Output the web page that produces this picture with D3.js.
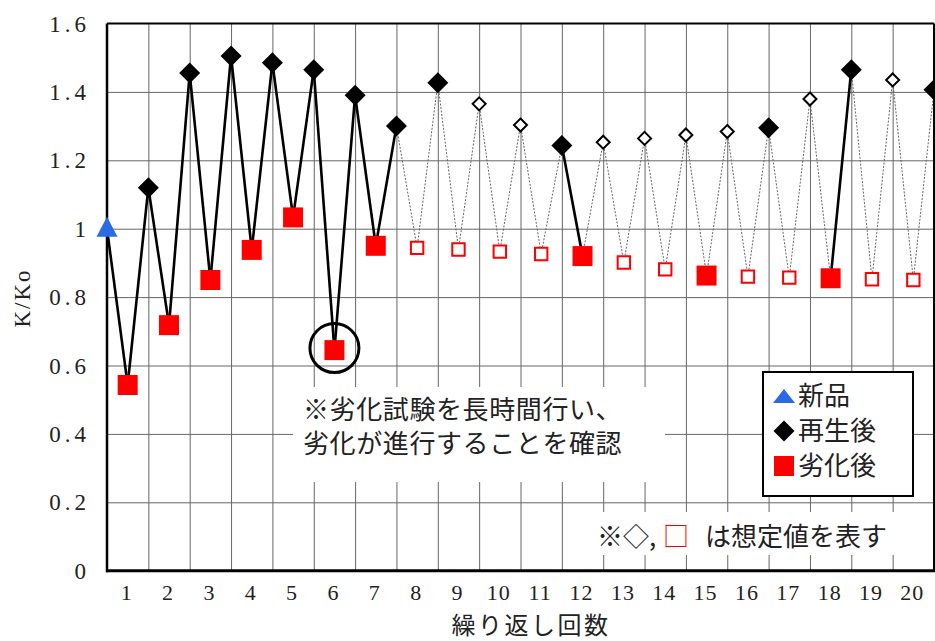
<!DOCTYPE html>
<html>
<head>
<meta charset="utf-8">
<script src="https://cdn.jsdelivr.net/npm/d3@7"></script>
<style>
  body { margin: 0; background: #fff; }
  svg { display: block; }
</style>
</head>
<body>
<div id="chart"></div>
<script>
// データ
const cycleLabels = ['1','2','3','4','5','6','7','8','9','10','11','12','13','14','15','16','17','18','19','20'];
const newValue = [1.0];
const regenValues = [1.12, 1.455, 1.505, 1.485, 1.465, 1.39, 1.30, 1.427, 1.365, 1.303,
                     1.243, 1.253, 1.264, 1.274, 1.284, 1.295, 1.379, 1.465, 1.435, 1.406];
const regenMeasured = [1,1,1,1,1,1,1,1,0,0, 1,0,0,0,0,1,0,1,0,1];
const degradedValues = [0.543, 0.718, 0.85, 0.938, 1.033, 0.645, 0.95, 0.944, 0.939, 0.933,
                        0.926, 0.92, 0.901, 0.881, 0.863, 0.86, 0.857, 0.855, 0.852, 0.85];
const degradedMeasured = [1,1,1,1,1,1,1,0,0,0, 0,1,0,0,1,0,0,1,0,0];
const yTicks = [0, 0.2, 0.4, 0.6, 0.8, 1, 1.2, 1.4, 1.6];
const yTickLabels = ['0','0.2','0.4','0.6','0.8','1','1.2','1.4','1.6'];
const circledCycle = 6;

const W = 935, H = 641;
const plotL = 107, plotR = 934, plotT = 23.5, plotB = 570.7;
const blue = '#2a6ae6', red = '#ff0000';
const serif = '"Liberation Serif", "DejaVu Serif", serif';
const jp = '"Noto Sans CJK JP", sans-serif';

const svg = d3.select('#chart').append('svg')
  .attr('width', W).attr('height', H);
svg.append('rect').attr('width', W).attr('height', H).attr('fill', '#fff');

// x: 0 = 新品, 2k-1 = 劣化後 k, 2k = 再生後 k
const x = d3.scaleLinear().domain([0, 40]).range([plotL, plotR]);
const y = d3.scaleLinear().domain([0, 1.6]).range([plotB, plotT]);

// 点列を作る
const points = [{ i: 0, v: newValue[0], type: 'new', measured: true }];
cycleLabels.forEach((c, k) => {
  points.push({ i: 2 * k + 1, v: degradedValues[k], type: 'deg', measured: !!degradedMeasured[k] });
  points.push({ i: 2 * k + 2, v: regenValues[k], type: 'reg', measured: !!regenMeasured[k] });
});

// グリッド
const gridX = d3.range(2, 40, 2);
svg.append('g')
  .attr('transform', `translate(0,${plotB})`)
  .call(d3.axisBottom(x).tickValues(gridX).tickSize(-(plotB - plotT)).tickFormat(''))
  .call(g => g.select('.domain').remove())
  .call(g => g.selectAll('line').attr('stroke', '#666').attr('stroke-width', 1));

svg.append('g')
  .attr('transform', `translate(${plotL},0)`)
  .call(d3.axisLeft(y).tickValues(yTicks.filter(d => d > 0 && d < 1.6)).tickSize(-(plotR - plotL)).tickFormat(''))
  .call(g => g.select('.domain').remove())
  .call(g => g.selectAll('line').attr('stroke', '#666').attr('stroke-width', 1));

// 注記ボックス（グリッドを隠す）
svg.append('rect').attr('x', 293).attr('y', 387).attr('width', 372).attr('height', 95).attr('fill', '#fff');
svg.append('rect').attr('x', 590).attr('y', 512).attr('width', 345).attr('height', 43).attr('fill', '#fff');

// 枠
const frame = svg.append('g').attr('stroke', '#000').attr('fill', 'none');
frame.append('line').attr('x1', plotL).attr('x2', plotR).attr('y1', plotT).attr('y2', plotT).attr('stroke-width', 2);
frame.append('line').attr('x1', plotR).attr('x2', plotR).attr('y1', plotT).attr('y2', plotB).attr('stroke-width', 2);
frame.append('line').attr('x1', plotL).attr('x2', plotL).attr('y1', plotT).attr('y2', plotB + 1.5).attr('stroke-width', 2.5);
frame.append('line').attr('x1', plotL - 1).attr('x2', plotR + 1).attr('y1', plotB).attr('y2', plotB).attr('stroke-width', 3);

// 線（実測どうし＝実線、想定値を含む＝点線）
const line = d3.line().x(d => x(d.i)).y(d => y(d.v));
const segs = d3.pairs(points);
svg.append('g').selectAll('path')
  .data(segs.filter(([a, b]) => !(a.measured && b.measured)))
  .join('path')
  .attr('d', d => line(d))
  .attr('fill', 'none')
  .attr('stroke', '#666')
  .attr('stroke-width', 1)
  .attr('stroke-dasharray', '2,1.5');
svg.append('g').selectAll('path')
  .data(segs.filter(([a, b]) => a.measured && b.measured))
  .join('path')
  .attr('d', d => line(d))
  .attr('fill', 'none')
  .attr('stroke', '#000')
  .attr('stroke-width', 2.6)
  .attr('stroke-linejoin', 'round');

// マーカー
function markerPath(type, measured) {
  if (type === 'new') return 'M0,-12L10.5,8L-10.5,8Z';
  if (type === 'reg') {
    const r = measured ? 10.5 : 6.5;
    return `M0,${-r}L${r},0L0,${r}L${-r},0Z`;
  }
  const s = measured ? 10 : 6.2;
  return `M${-s},${-s}H${s}V${s}H${-s}Z`;
}
svg.append('g').selectAll('path')
  .data(points)
  .join('path')
  .attr('transform', d => `translate(${x(d.i)},${y(d.v)})`)
  .attr('d', d => markerPath(d.type, d.measured))
  .attr('fill', d => d.type === 'new' ? blue : !d.measured ? '#fff' : d.type === 'reg' ? '#000' : red)
  .attr('stroke', d => d.measured ? 'none' : d.type === 'reg' ? '#000' : red)
  .attr('stroke-width', 2);

// 丸印
const cp = points.find(p => p.type === 'deg' && p.i === 2 * circledCycle - 1);
svg.append('circle')
  .attr('cx', x(cp.i)).attr('cy', y(cp.v) - 2).attr('r', 24.5)
  .attr('fill', 'none').attr('stroke', '#000').attr('stroke-width', 3);

// y軸ラベル
svg.append('g').selectAll('text')
  .data(yTicks)
  .join('text')
  .attr('x', 90)
  .attr('y', d => y(d))
  .attr('dy', '0.35em')
  .attr('text-anchor', 'end')
  .attr('font-family', serif)
  .attr('font-size', 23)
  .attr('letter-spacing', 4)
  .attr('fill', '#222')
  .text((d, i) => yTickLabels[i]);

// x軸ラベル
svg.append('g').selectAll('text')
  .data(cycleLabels)
  .join('text')
  .attr('x', (d, k) => x(2 * k + 1) - 1)
  .attr('y', 600)
  .attr('text-anchor', 'middle')
  .attr('font-family', serif)
  .attr('font-size', 22)
  .attr('letter-spacing', 1)
  .attr('fill', '#222')
  .text(d => d);

// 軸タイトル
svg.append('text')
  .attr('transform', 'translate(30,298) rotate(-90)')
  .attr('text-anchor', 'middle')
  .attr('font-family', serif)
  .attr('font-size', 23)
  .attr('letter-spacing', 2)
  .attr('fill', '#222')
  .text('K/Ko');
svg.append('text')
  .attr('x', 531).attr('y', 634)
  .attr('text-anchor', 'middle')
  .attr('font-family', jp)
  .attr('font-size', 24)
  .attr('letter-spacing', 2.5)
  .attr('fill', '#222')
  .text('繰り返し回数');

// 注記
const note = svg.append('g').attr('font-family', jp).attr('font-size', 26).attr('fill', '#222').attr('letter-spacing', 0.6);
note.append('text').attr('x', 303).attr('y', 419).text('※劣化試験を長時間行い、');
note.append('text').attr('x', 303).attr('y', 453).text('劣化が進行することを確認');

const note2 = svg.append('text').attr('y', 546).attr('font-family', jp).attr('font-size', 26).attr('fill', '#222');
note2.append('tspan').attr('x', 597).text('※◇,');
note2.append('tspan').attr('x', 663).attr('fill', red).text('□');
note2.append('tspan').attr('x', 705).text('は想定値を表す');

// 凡例
const legendItems = [
  { label: '新品', type: 'new' },
  { label: '再生後', type: 'reg' },
  { label: '劣化後', type: 'deg' }
];
const lg = svg.append('g').attr('transform', 'translate(763,372)');
lg.append('rect').attr('width', 150).attr('height', 124)
  .attr('fill', '#fff').attr('stroke', '#000').attr('stroke-width', 2);
const li = lg.selectAll('g.item').data(legendItems).join('g')
  .attr('class', 'item')
  .attr('transform', (d, i) => `translate(0,${24 + i * 35})`);
li.append('path')
  .attr('transform', 'translate(21,0)')
  .attr('d', d => d.type === 'new' ? 'M0,-7L11,7L-11,7Z' : markerPath(d.type, true))
  .attr('fill', d => d.type === 'new' ? blue : d.type === 'reg' ? '#000' : red);
li.append('text')
  .attr('x', 35).attr('y', 9)
  .attr('font-family', jp).attr('font-size', 26).attr('fill', '#222')
  .text(d => d.label);
</script>
</body>
</html>
